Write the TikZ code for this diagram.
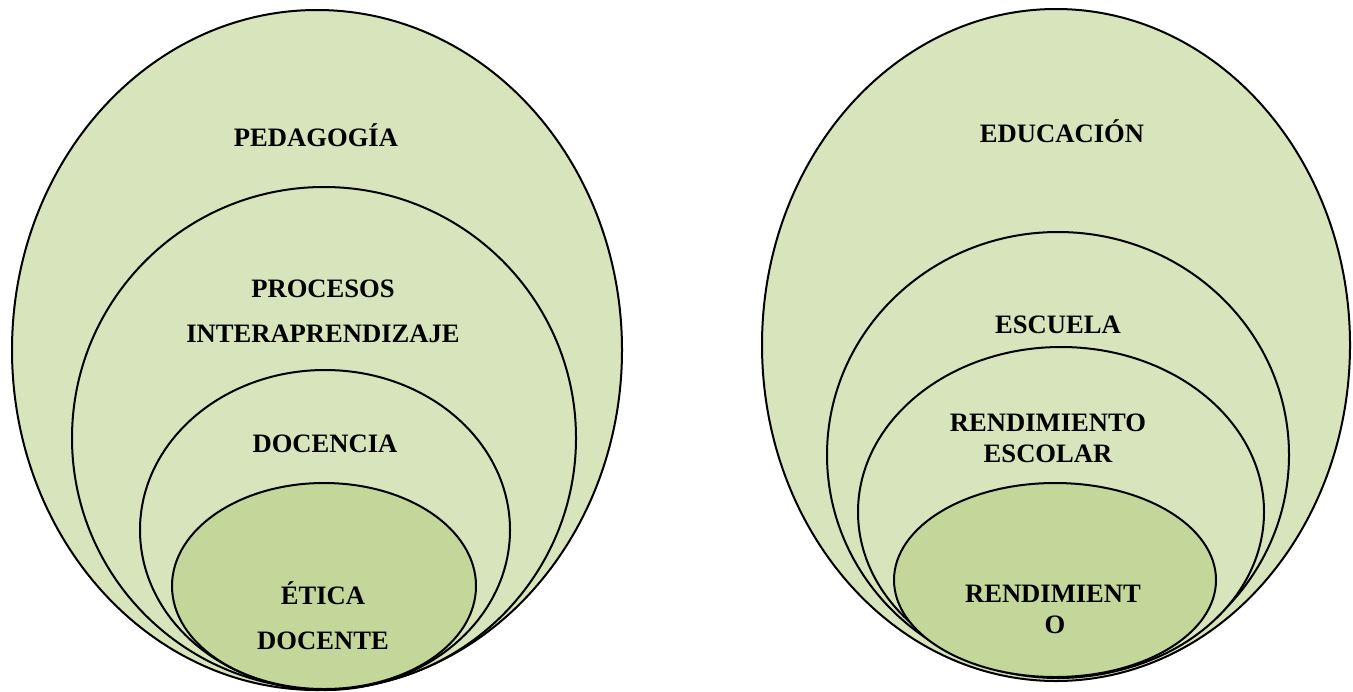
\documentclass[tikz,border=0pt]{standalone}
\usepackage{fontspec}
\setmainfont{Liberation Serif}
\usepackage{xcolor}
\usepackage{tikz}
\usetikzlibrary{shapes.geometric}
\definecolor{olive light}{HTML}{D8E4BC}
\definecolor{olive dark}{HTML}{C4D79B}
\tikzset{
    x=0.5pt, y=-0.5pt,
    ring/.style={shape=ellipse,draw=black,line width=1pt,fill=olive light,inner sep=0pt},
    core/.style={ring,fill=olive dark},
    tag/.style={anchor=base,inner sep=0pt,font=\fontsize{13.3}{16}\selectfont\bfseries}
}
\begin{document}
\begin{tikzpicture}
    \useasboundingbox (0,0) rectangle (1353,691);
    % left set
    \node(ped)  [ring,minimum width=305pt,minimum height=340pt] at (317,350) {};
    \node(proc) [ring,minimum width=252pt,minimum height=251pt] at (324,438) {};
    \node(doc)  [ring,minimum width=185pt,minimum height=160pt] at (325,530) {};
    \node(eti)  [core,minimum width=152pt,minimum height=103pt] at (324,586) {};
    \node(ped-t)   [tag] at (316,146) {PEDAGOGÍA};
    \node(proc-t1) [tag] at (323,297) {PROCESOS};
    \node(proc-t2) [tag] at (323,342) {INTERAPRENDIZAJE};
    \node(doc-t)   [tag] at (325,452) {DOCENCIA};
    \node(eti-t1)  [tag] at (323,604) {ÉTICA};
    \node(eti-t2)  [tag] at (323,649) {DOCENTE};
    % right set
    \node(edu)  [ring,minimum width=294pt,minimum height=336pt] at (1056,345) {};
    \node(esc)  [ring,minimum width=231pt,minimum height=223pt] at (1058,455) {};
    \node(rend) [ring,minimum width=203pt,minimum height=165pt] at (1061,512) {};
    \node(ren)  [core,minimum width=161pt,minimum height=97pt] at (1055,580) {};
    \node(edu-t)   [tag] at (1062,142) {EDUCACIÓN};
    \node(esc-t)   [tag] at (1058,333) {ESCUELA};
    \node(rend-t1) [tag] at (1048,431) {RENDIMIENTO};
    \node(rend-t2) [tag] at (1048,462) {ESCOLAR};
    \node(ren-t1)  [tag] at (1053,602) {RENDIMIENT};
    \node(ren-t2)  [tag] at (1055,633) {O};
\end{tikzpicture}
\end{document}
